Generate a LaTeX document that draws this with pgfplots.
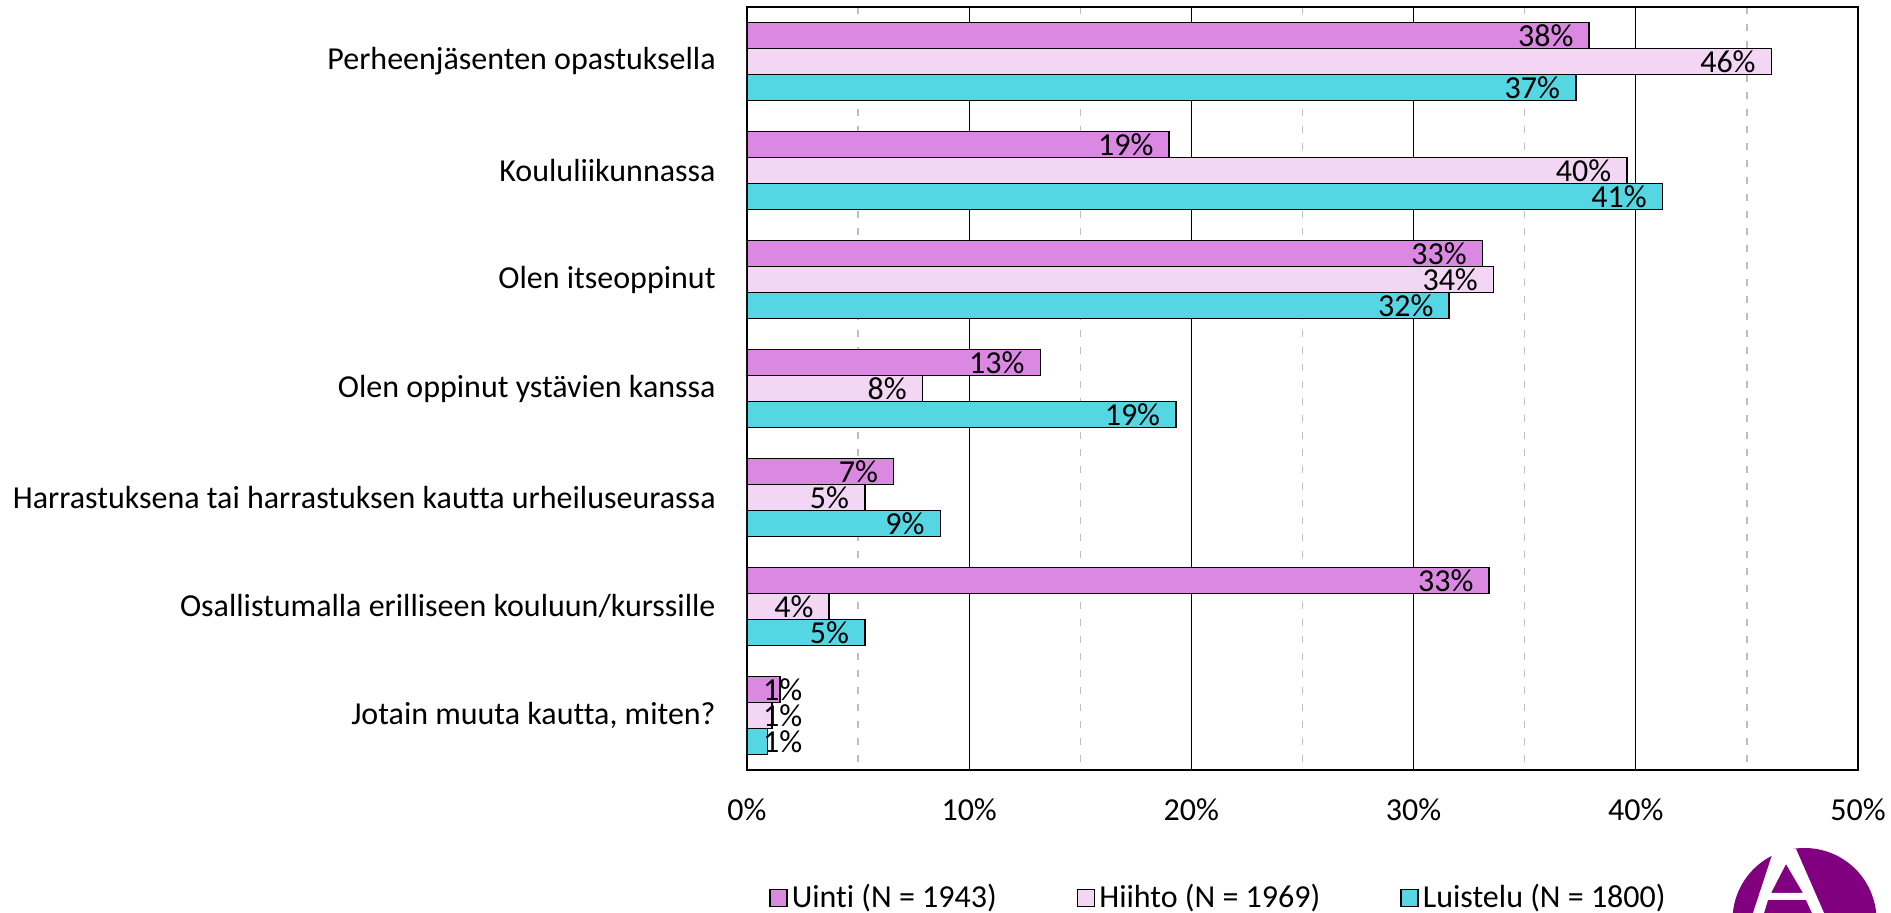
\documentclass[border=0pt]{standalone}
\usepackage{pgfplots}
\pgfplotsset{compat=1.18}
\usepackage{fontspec}
\setmainfont{Carlito}[Ligatures={NoCommon}]
\definecolor{cU}{RGB}{218,136,226}
\definecolor{cH}{RGB}{243,214,244}
\definecolor{cL}{RGB}{84,214,227}
\definecolor{logo}{RGB}{128,0,128}
\definecolor{gridgray}{RGB}{190,190,190}
\begin{document}
\fontsize{16}{19}\selectfont
\begin{tikzpicture}
\useasboundingbox (0,0) rectangle (945.5pt,456.5pt);
\begin{axis}[
 at={(373.5pt,71.5pt)}, anchor=south west,
 scale only axis, width=555.5pt, height=381.5pt,
 xbar, y dir=reverse,
 xmin=0, xmax=50, ymin=-0.5, ymax=6.5,
 xtick={0,10,20,30,40,50},
 xticklabels={0\%,10\%,20\%,30\%,40\%,50\%},
 minor xtick={5,15,25,35,45},
 ytick={0,1,2,3,4,5,6},
 yticklabels={Perheenjäsenten opastuksella,Koululiikunnassa,Olen itseoppinut,Olen oppinut ystävien kanssa,Harrastuksena tai harrastuksen kautta urheiluseurassa,Osallistumalla erilliseen kouluun/kurssille,{Jotain muuta kautta, miten?}},
 major tick length=0pt, minor tick length=0pt,
 xmajorgrids, xminorgrids,
 major grid style={black, line width=0.6pt},
 minor grid style={gridgray, line width=0.6pt, dash pattern=on 3.5pt off 5pt},
 axis line style={black, line width=0.75pt},
 yticklabel style={anchor=east, inner sep=0pt, xshift=-15.5pt},
 xticklabel style={anchor=center, inner sep=0pt, yshift=-20pt},
 bar width=0.238,
 point meta=rawx,
 nodes near coords={\pgfmathprintnumber[assume math mode=true,fixed,precision=0]{\pgfplotspointmeta}\%},
 visualization depends on={rawx \as \xval},
 nodes near coords style={anchor=east, inner sep=0pt, xshift={(max(-7.5,28-11.11*\xval))*1pt}},
 legend columns=3,
 legend cell align=left,
 legend style={draw=none, fill=none, at={(0.4253,-0.168)}, anchor=center,
   /tikz/every even column/.append style={column sep=38pt}},
 legend image code/.code={\draw[#1, line width=0.75pt] (0pt,-4.25pt) rectangle (8.5pt,4.25pt);},
]
\addplot[fill=cU, draw=black, line width=0.75pt, bar shift=-0.238]
 coordinates {(37.9,0) (19.0,1) (33.1,2) (13.2,3) (6.6,4) (33.4,5) (1.49,6)};
\addplot[fill=cH, draw=black, line width=0.75pt, bar shift=0]
 coordinates {(46.1,0) (39.6,1) (33.6,2) (7.9,3) (5.3,4) (3.7,5) (1.13,6)};
\addplot[fill=cL, draw=black, line width=0.75pt, bar shift=0.238]
 coordinates {(37.3,0) (41.2,1) (31.6,2) (19.3,3) (8.7,4) (5.3,5) (0.93,6)};
\legend{Uinti (N = 1943),Hiihto (N = 1969),Luistelu (N = 1800)}
\end{axis}
\begin{scope}
\clip (0,0) rectangle (945.5pt,456.5pt);
\fill[logo] (902.25pt,-3.5pt) circle (36pt);
\fill[white, even odd rule] (876.5pt,0pt) -- (887pt,32pt) -- (898pt,32pt) -- (912pt,0pt) -- (906pt,0pt) -- (903pt,6.5pt) -- (884pt,6.5pt) -- (882pt,0pt) -- cycle
 (885.5pt,10pt) -- (893pt,24.5pt) -- (901.5pt,10pt) -- cycle;
\end{scope}
\end{tikzpicture}
\end{document}
